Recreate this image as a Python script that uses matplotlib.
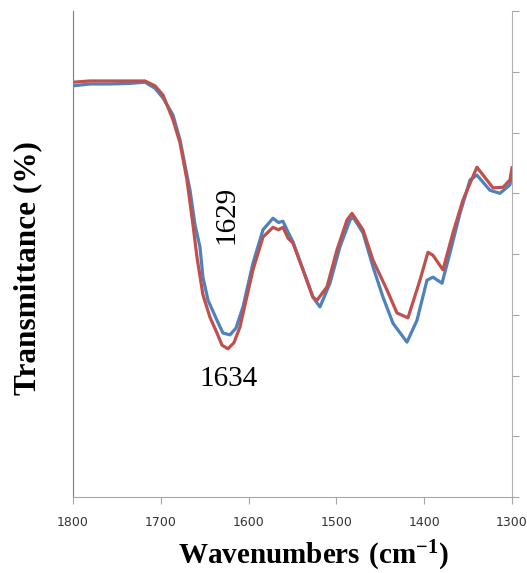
import numpy as np
import matplotlib
matplotlib.use("Agg")
import matplotlib.pyplot as plt

plt.rcParams['mathtext.fontset'] = 'custom'
plt.rcParams['mathtext.rm'] = 'Liberation Serif:bold'
plt.rcParams['mathtext.bf'] = 'Liberation Serif:bold'

# wavenumbers (cm-1) and transmittance
wn_blue = [1800, 1780.6, 1757.9, 1735.1, 1718, 1706.6, 1697.5, 1686.1, 1678.1, 1671.3,
           1666.7, 1661, 1655.4, 1652, 1646.2, 1636, 1629.2, 1621.2, 1614.4, 1606.4,
           1595, 1583.6, 1572.2, 1566, 1560.8, 1555, 1549.4, 1538, 1526.7, 1518.7,
           1507.3, 1495.9, 1484.5, 1481.1, 1469.7, 1458.3, 1446.9, 1435.5, 1419.6, 1408.2,
           1396.8, 1390, 1379.7, 1370.6, 1359.2, 1347.8, 1339.9, 1325.1, 1313.7, 1302.3,
           1300]
t_blue = [67.7, 68.0, 68.0, 68.1, 68.3, 67.3, 65.7, 62.9, 58.8, 53.8,
          50.5, 44.8, 41.2, 36.2, 32.4, 29.1, 27.0, 26.7, 27.8, 31.3,
          38.5, 44.0, 45.9, 45.2, 45.4, 43.6, 42.0, 37.4, 32.9, 31.3,
          35.2, 41.2, 45.6, 46.1, 43.5, 37.9, 32.9, 28.6, 25.5, 29.1,
          35.7, 36.2, 35.2, 40.2, 46.7, 52.2, 53.0, 50.5, 50.0, 51.4,
          53.5]

wn_red = [1800, 1780.6, 1757.9, 1735.1, 1718, 1706.6, 1697.5, 1686.1, 1678.1, 1670.2,
          1663.3, 1658.8, 1652.0, 1644.0, 1636.0, 1630.3, 1623.5, 1616.7, 1609.8, 1595.0,
          1583.6, 1572.2, 1566, 1560.8, 1555, 1549.4, 1538.0, 1526.7, 1522.1, 1510.7,
          1499.3, 1487.9, 1482.2, 1469.7, 1458.3, 1442.4, 1431.0, 1418.5, 1404.8, 1395.7,
          1390.0, 1378.6, 1367.2, 1355.8, 1344.4, 1339.9, 1321.6, 1310.2, 1302.3, 1300]
t_red = [68.3, 68.5, 68.5, 68.5, 68.5, 67.7, 66.2, 62.1, 58.3, 52.2,
         44.8, 39.5, 33.3, 29.6, 27.0, 25.0, 24.4, 25.4, 28.0, 37.4,
         42.8, 44.4, 44.0, 44.4, 42.6, 41.8, 37.4, 32.9, 32.4, 34.6,
         40.7, 45.6, 46.7, 44.0, 39.0, 34.1, 30.3, 29.5, 35.7, 40.3,
         39.8, 37.4, 43.5, 48.9, 52.8, 54.3, 50.9, 51.0, 52.2, 54.2]

xticks = [1800, 1700, 1600, 1500, 1400, 1300]
yticks = [0, 10, 20, 30, 40, 50, 60, 70, 80]

fig = plt.figure(figsize=(5.27, 5.73), dpi=100)
ax = fig.add_axes([0.1385, 0.1326, 0.833, 0.848])

ax.plot(wn_blue, t_blue, color='#4F81BD', lw=2.3, solid_joinstyle='round')
ax.plot(wn_red, t_red, color='#C0504D', lw=2.3, solid_joinstyle='round')

ax.set_xlim(1800, 1300)
ax.set_ylim(0, 80)
ax.set_xticks(xticks)
ax.set_yticks(yticks)
ax.yaxis.tick_right()
ax.set_yticklabels([])
ax.tick_params(axis='y', direction='out', length=5, color='#A6A6A6', right=True, left=False)
ax.tick_params(axis='x', direction='out', length=5, color='#A6A6A6', labelsize=9,
               labelcolor='#333333', pad=9)

ax.spines['top'].set_visible(False)
ax.spines['left'].set_color('#7F7F7F')
ax.spines['right'].set_color('#B0B0B0')
ax.spines['bottom'].set_color('#A6A6A6')

ax.text(1625, 46.5, '1629', rotation=90, ha='center', va='center',
        family='Liberation Serif', fontsize=21)
ax.text(1623, 19.5, '1634', ha='center', va='center',
        family='Liberation Serif', fontsize=21)

fig.text(0.053, 0.532, 'Transmittance (%)', rotation=90, ha='center', va='center',
         family='Liberation Serif', fontweight='bold', fontsize=22.5)
fig.text(0.594, 0.030, r'$\mathbf{Wavenumbers\ (cm^{-1})}$', ha='center', va='center',
         fontsize=21)

fig.savefig('out.png', dpi=100)
